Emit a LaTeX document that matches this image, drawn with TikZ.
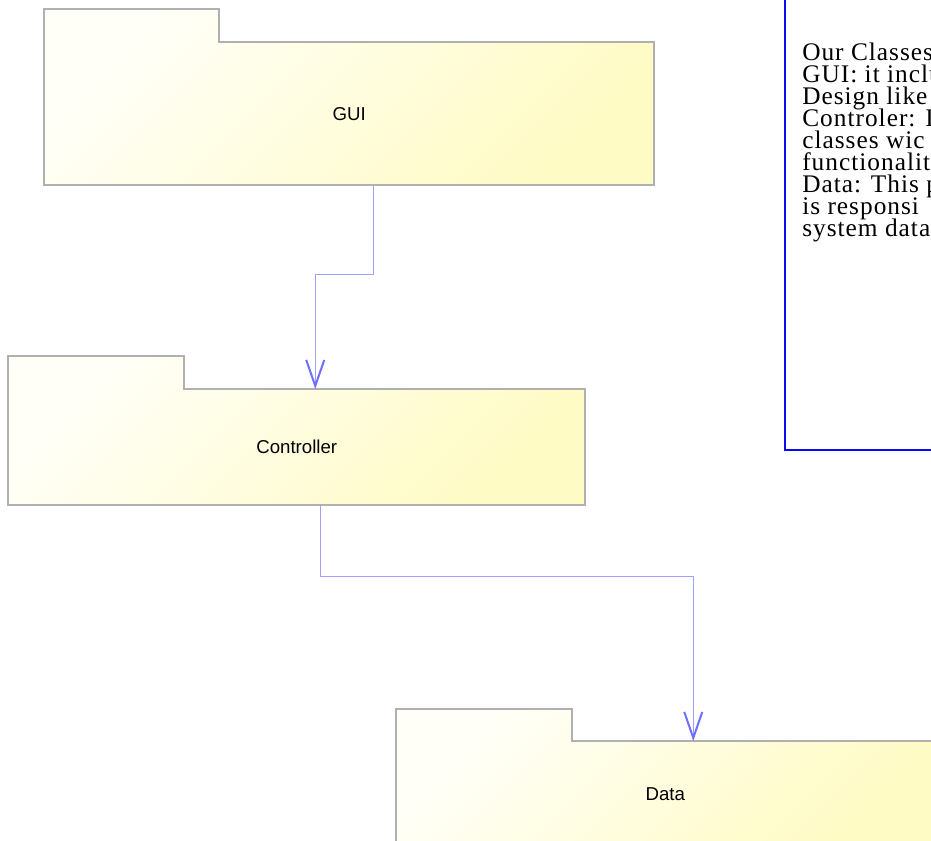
\documentclass[tikz,border=0pt]{standalone}
\usepackage{fontspec}
\setmainfont{Liberation Serif}
\newfontfamily\labelfont{Liberation Sans}
\newfontfamily\notefont{Liberation Serif}[LetterSpace=4]
\usetikzlibrary{arrows.meta,calc}
\definecolor{pkgline}{HTML}{B0B0B0}
\definecolor{pkglight}{HTML}{FFFFF8}
\definecolor{pkgdark}{HTML}{FFFBC4}
\definecolor{connline}{HTML}{A0A0FF}
\definecolor{connhead}{HTML}{6E6EFF}
\definecolor{noteblue}{HTML}{0A0AF5}
\begin{document}
\begin{tikzpicture}[x=0.75pt,y=-0.75pt,
  pkg/.style={draw=pkgline, line width=1.6pt, line join=miter,
    top color=pkglight, bottom color=pkgdark, shading angle=45},
  pkgbody/.style={inner sep=0pt, font=\labelfont\fontsize{14pt}{16pt}\selectfont},
  conn/.style={draw=connline, line width=0.75pt,
    -{Straight Barb[length=19.5pt, width=13.5pt, line width=1.5pt, color=connhead]}},
  notebox/.style={draw=noteblue, line width=1.5pt, inner sep=0pt},
  notetext/.style={inner sep=0pt, font=\notefont\fontsize{19pt}{16.5pt}\selectfont}
]
\useasboundingbox (0,0) rectangle (931,840);
\clip (0,0) rectangle (931,840);

% package outlines (tab + body)
\path[pkg] (44,185) -- (44,9) -- (219,9) -- (219,42) -- (654,42) -- (654,185) -- cycle;
\path[pkg] (8,505) -- (8,356) -- (184,356) -- (184,389) -- (585,389) -- (585,505) -- cycle;
\path[pkg] (396,846) -- (396,709) -- (572,709) -- (572,741) -- (934,741) -- (934,846) -- cycle;

% package bodies with their names
\node[pkgbody, minimum width=457.5pt, minimum height=107.25pt, anchor=north west] (gui) at (44,42) {GUI};
\node[pkgbody, minimum width=432.75pt, minimum height=87pt, anchor=north west] (ctrl) at (8,389) {Controller};
\node[pkgbody, minimum width=403.5pt, minimum height=78.75pt, anchor=north west] (data) at (396,741) {Data};

% dependencies
\coordinate (g1) at ([xshift=18pt]gui.south);
\coordinate (c1) at ([xshift=13.875pt]ctrl.north);
\coordinate (c2) at ([xshift=17.625pt]ctrl.south);
\coordinate (d1) at ([xshift=21pt]data.north);
\draw[conn] (g1) -- (g1 |- 0,274) -| (c1);
\draw[conn] (c2) -- (c2 |- 0,576) -| (d1);

% note
\node[notebox, minimum width=124.5pt, minimum height=353.25pt, anchor=south west] (note) at (784,451) {};
\foreach \t [count=\i from 0] in {Our Classes, GUI: it inclu, Design like, Controler: I, classes wic, functionalit, Data: This p, is responsi, system data}
  \node[notetext, anchor=base west] (line\i) at (802,{60+22*\i}) {\t};
\end{tikzpicture}
\end{document}
